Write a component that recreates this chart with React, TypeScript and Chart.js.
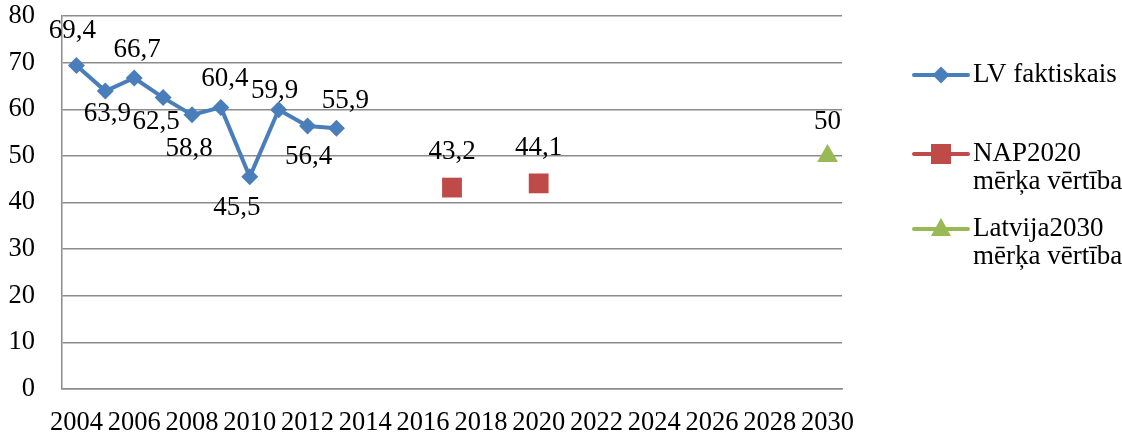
import React, { useEffect, useRef } from 'react';
import { Chart, registerables } from 'chart.js';

Chart.register(...registerables);

// categories: every year of the axis, labels shown on even years only
const years: string[] = [];
for (let y = 2004; y <= 2030; y++) years.push(String(y));

const yTicks = [0, 10, 20, 30, 40, 50, 60, 70, 80];

const lvYears = [2004, 2005, 2006, 2007, 2008, 2009, 2010, 2011, 2012, 2013];
const lvValues = [69.4, 63.9, 66.7, 62.5, 58.8, 60.4, 45.5, 59.9, 56.4, 55.9];

const napYears = [2017, 2020];
const napValues = [43.2, 44.1];

const lv2030Years = [2030];
const lv2030Values = [50];

// where each data label sits relative to its point [dx, dy]
const lvLabelOffsets = [
  [-4, -35], [2, 23], [3, -28], [-7, 24], [-3, 34],
  [4, -28], [-13, 31], [-4, -19], [1, 31], [9, -27],
];
const napLabelOffsets = [[0, -36], [0, -35]];
const lv2030LabelOffsets = [[0, -34]];

const BLUE = '#4A7EBB';
const RED = '#BE4B48';
const GREEN = '#98B954';
const GRID = '#8c8c8c';
const FONT = '"Liberation Serif", "Times New Roman", serif';

const fmt = (v: number) => String(v).replace('.', ',');

const dataLabels = {
  id: 'dataLabels',
  afterDatasetsDraw(chart: any) {
    const { ctx } = chart;
    const offsets = [lvLabelOffsets, napLabelOffsets, lv2030LabelOffsets];
    ctx.save();
    ctx.font = `27px ${FONT}`;
    ctx.fillStyle = '#000';
    ctx.textAlign = 'center';
    ctx.textBaseline = 'middle';
    chart.data.datasets.forEach((ds: any, di: number) => {
      const meta = chart.getDatasetMeta(di);
      meta.data.forEach((pt: any, i: number) => {
        const [dx, dy] = offsets[di][i] || [0, -30];
        ctx.fillText(fmt(ds.data[i].y), pt.x + dx, pt.y + dy);
      });
    });
    ctx.restore();
  },
};

const drawMarker = (ctx: CanvasRenderingContext2D, shape: string, x: number, y: number, color: string) => {
  ctx.fillStyle = color;
  ctx.beginPath();
  if (shape === 'diamond') {
    ctx.moveTo(x, y - 8.5);
    ctx.lineTo(x + 8.5, y);
    ctx.lineTo(x, y + 8.5);
    ctx.lineTo(x - 8.5, y);
  } else if (shape === 'square') {
    ctx.rect(x - 10, y - 10, 20, 20);
  } else {
    ctx.moveTo(x, y - 11);
    ctx.lineTo(x + 10, y + 7);
    ctx.lineTo(x - 10, y + 7);
  }
  ctx.closePath();
  ctx.fill();
};

const sideLegend = {
  id: 'sideLegend',
  afterDraw(chart: any) {
    const { ctx } = chart;
    const items = [
      { color: BLUE, shape: 'diamond', y: 75, lines: ['LV faktiskais'] },
      { color: RED, shape: 'square', y: 154, lines: ['NAP2020', 'mērķa vērtība'] },
      { color: GREEN, shape: 'triangle', y: 229, lines: ['Latvija2030', 'mērķa vērtība'] },
    ];
    ctx.save();
    ctx.font = `27px ${FONT}`;
    ctx.textAlign = 'left';
    ctx.textBaseline = 'middle';
    items.forEach((it) => {
      ctx.strokeStyle = it.color;
      ctx.lineWidth = 4;
      ctx.lineCap = 'round';
      ctx.beginPath();
      ctx.moveTo(914, it.y);
      ctx.lineTo(968, it.y);
      ctx.stroke();
      drawMarker(ctx, it.shape, 941, it.y, it.color);
      ctx.fillStyle = '#000';
      it.lines.forEach((t, i) => ctx.fillText(t, 973, it.y + i * 28));
    });
    ctx.restore();
  },
};

const App: React.FC = () => {
  const canvasRef = useRef<HTMLCanvasElement | null>(null);
  const chartRef = useRef<Chart | null>(null);

  useEffect(() => {
    document.body.style.margin = '0';
    if (!canvasRef.current) return;
    const ctx = canvasRef.current.getContext('2d');
    if (!ctx) return;

    chartRef.current = new Chart(ctx, {
      type: 'line',
      data: {
        labels: years,
        datasets: [
          {
            label: 'LV faktiskais',
            data: lvYears.map((y, i) => ({ x: String(y), y: lvValues[i] })),
            borderColor: BLUE,
            backgroundColor: BLUE,
            borderWidth: 4,
            pointStyle: 'rectRot',
            pointRadius: 8.5,
            pointBorderWidth: 0,
            tension: 0,
          },
          {
            label: 'NAP2020 mērķa vērtība',
            data: napYears.map((y, i) => ({ x: String(y), y: napValues[i] })),
            borderColor: RED,
            backgroundColor: RED,
            showLine: false,
            pointStyle: 'rect',
            pointRadius: 14,
            pointBorderWidth: 0,
          },
          {
            label: 'Latvija2030 mērķa vērtība',
            data: lv2030Years.map((y, i) => ({ x: String(y), y: lv2030Values[i] })),
            borderColor: GREEN,
            backgroundColor: GREEN,
            showLine: false,
            pointStyle: 'triangle',
            pointRadius: 12,
            pointBorderWidth: 0,
          },
        ],
      },
      options: {
        animation: false,
        responsive: true,
        maintainAspectRatio: false,
        layout: { padding: { top: 16, right: 280, left: 0, bottom: 0 } },
        plugins: {
          legend: { display: false },
          tooltip: { enabled: false },
        },
        scales: {
          x: {
            type: 'category',
            offset: true,
            grid: { display: false },
            border: { display: true, color: GRID, width: 1.5 },
            ticks: {
              autoSkip: false,
              maxRotation: 0,
              padding: 10,
              color: '#000',
              font: { family: FONT, size: 26.5 },
              callback: (_v: any, i: number) => (Number(years[i]) % 2 === 0 ? years[i] : ''),
            },
            afterFit: (scale: any) => {
              scale.height = 45;
              scale.paddingLeft = 0;
              scale.paddingRight = 0;
            },
          },
          y: {
            min: 0,
            max: 80,
            afterBuildTicks: (scale: any) => {
              scale.ticks = yTicks.map((v) => ({ value: v }));
            },
            grid: { color: GRID, lineWidth: 1.5, drawTicks: false },
            border: { display: true, color: GRID, width: 1.5 },
            ticks: {
              padding: 27,
              color: '#000',
              font: { family: FONT, size: 26.5 },
            },
            afterFit: (scale: any) => {
              scale.width = 62;
              scale.paddingTop = 0;
              scale.paddingBottom = 0;
            },
          },
        },
      },
      plugins: [dataLabels, sideLegend],
    });

    return () => {
      chartRef.current?.destroy();
      chartRef.current = null;
    };
  }, []);

  return (
    <div style={{ width: 1122, height: 434, position: 'relative' }}>
      <canvas ref={canvasRef}></canvas>
    </div>
  );
};

export default App;
